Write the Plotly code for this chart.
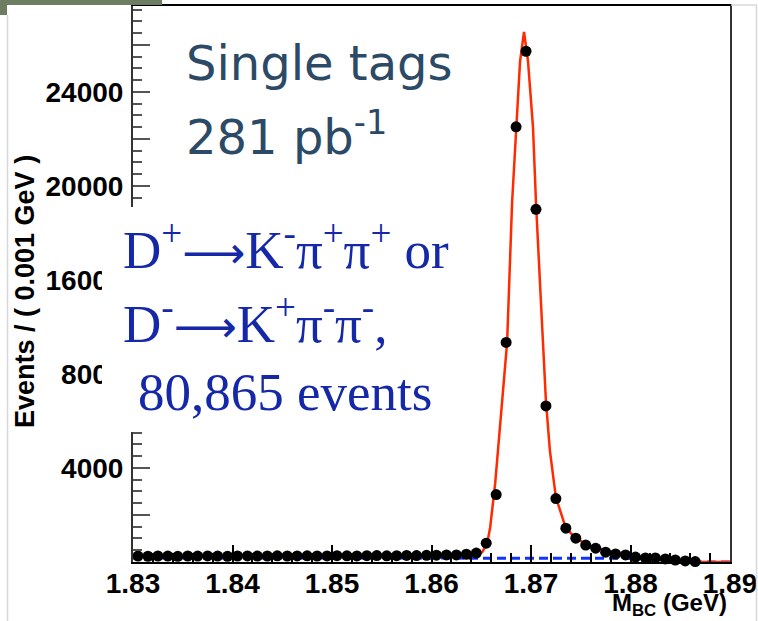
import plotly.graph_objects as go

# ---------------- data ----------------
bin_centers = [1.8305, 1.8315, 1.8325, 1.8335, 1.8345, 1.8355, 1.8365, 1.8375, 1.8385, 1.8395,
               1.8405, 1.8415, 1.8425, 1.8435, 1.8445, 1.8455, 1.8465, 1.8475, 1.8485, 1.8495,
               1.8505, 1.8515, 1.8525, 1.8535, 1.8545, 1.8555, 1.8565, 1.8575, 1.8585, 1.8595,
               1.8605, 1.8615, 1.8625, 1.8635, 1.8645, 1.8655, 1.8665, 1.8675, 1.8685, 1.8695,
               1.8705, 1.8715, 1.8725, 1.8735, 1.8745, 1.8755, 1.8765, 1.8775, 1.8785, 1.8795,
               1.8805, 1.8815, 1.8825, 1.8835, 1.8845, 1.8855, 1.8865]
counts = [250, 245, 255, 250, 240, 255, 250, 260, 250, 245,
          255, 260, 250, 255, 265, 255, 260, 265, 255, 260,
          270, 265, 260, 270, 275, 265, 270, 280, 275, 285,
          290, 300, 300, 330, 380, 800, 2870, 9340, 18510, 21725,
          15000, 6640, 2700, 1440, 1015, 720, 590, 420, 340, 300,
          210, 170, 170, 130, 85, 45, 20]
errors = [c ** 0.5 for c in counts]

fit_m = [1.8300, 1.8450, 1.8600, 1.8640, 1.8646, 1.8651, 1.8656, 1.8659, 1.8664, 1.8671,
         1.8676, 1.8681, 1.8685, 1.8689, 1.8693, 1.8697, 1.8702, 1.8705, 1.8710, 1.8715,
         1.8719, 1.8725, 1.8735, 1.8745, 1.8759, 1.8774, 1.8794, 1.8820, 1.8850, 1.8865, 1.8900]
fit_v = [240, 245, 255, 275, 300, 420, 800, 1480, 3340, 6850,
         9340, 15300, 18500, 21300, 22550, 21300, 18500, 15300, 11050, 6850,
         4740, 2750, 1440, 1015, 680, 510, 300, 170, 45, 0, 0]

bkg_m = [1.8300, 1.8600, 1.8750, 1.8790, 1.8820, 1.8840, 1.8855, 1.8865, 1.8900]
bkg_v = [175, 172, 168, 160, 135, 95, 55, 0, 0]

x_tickvals = [1.83, 1.84, 1.85, 1.86, 1.87, 1.88, 1.89]
x_ticktext = ["1.83", "1.84", "1.85", "1.86", "1.87", "1.88", "1.89"]
y_tickvals = [2000, 4000, 6000, 8000, 10000, 12000, 14000, 16000, 18000, 20000, 22000]
y_ticktext = ["", "4000", "", "8000", "", "16000", "", "20000", "", "24000", ""]

# ---------------- geometry helpers ----------------
W, H = 758, 621
L, R, T, B = 133, 730, 6, 562


def px(xp):
    return (xp - L) / (R - L)


def py(yp):
    return (B - yp) / (B - T)


fig = go.Figure()
fig.add_trace(go.Scatter(x=bkg_m, y=bkg_v, mode="lines",
                         line=dict(color="#1133ff", width=3, dash="9px,5px"),
                         hoverinfo="skip", showlegend=False))
fig.add_trace(go.Scatter(x=fit_m, y=fit_v, mode="lines",
                         line=dict(color="#ff2a00", width=2.5),
                         hoverinfo="skip", showlegend=False))
fig.add_trace(go.Scatter(x=bin_centers, y=counts, mode="markers",
                         marker=dict(color="black", size=11),
                         error_y=dict(type="data", array=errors, color="black", thickness=1.5, width=0),
                         showlegend=False, cliponaxis=False))

tickfont = dict(family="Liberation Sans", size=28, color="black", weight="bold")

fig.update_layout(
    width=W, height=H,
    margin=dict(l=L, r=W - R, t=T, b=H - B, autoexpand=False),
    paper_bgcolor="white", plot_bgcolor="white",
    xaxis=dict(range=[1.83, 1.89], tickmode="array", tickvals=x_tickvals, ticktext=x_ticktext,
               ticks="inside", ticklen=17, tickwidth=1.5, tickcolor="black",
               minor=dict(dtick=0.002, tick0=1.83, ticks="inside", ticklen=9, tickwidth=1.5,
                          tickcolor="black"),
               showline=True, linecolor="black", linewidth=2, mirror=True,
               showgrid=False, zeroline=False, tickfont=tickfont, automargin=False,
               ticklabelstandoff=-5, ticklabeloverflow="allow"),
    yaxis=dict(range=[0, 23650], tickmode="array", tickvals=y_tickvals, ticktext=y_ticktext,
               ticks="inside", ticklen=17, tickwidth=1.5, tickcolor="#555555",
               minor=dict(dtick=500, tick0=0, ticks="inside", ticklen=9, tickwidth=1.5,
                          tickcolor="#555555"),
               showline=True, linecolor="#333333", linewidth=2, mirror=True,
               showgrid=False, zeroline=False, tickfont=tickfont, ticklabelstandoff=2,
               automargin=False, ticklabeloverflow="allow"),
)

# white box covering part of the axis behind the decay text
fig.add_shape(type="rect", xref="paper", yref="paper",
              x0=px(102), x1=px(462), y0=py(432), y1=py(207),
              fillcolor="white", line=dict(width=0), layer="above")
# top-left decorative patch
fig.add_shape(type="rect", xref="paper", yref="paper",
              x0=px(0), x1=px(162), y0=py(5), y1=py(0),
              fillcolor="#6d7d62", line=dict(width=0), layer="above")
fig.add_shape(type="rect", xref="paper", yref="paper",
              x0=px(0), x1=px(7), y0=py(15), y1=py(0),
              fillcolor="#6d7d62", line=dict(width=0), layer="above")
fig.add_shape(type="line", xref="paper", yref="paper",
              x0=px(7.5), x1=px(7.5), y0=py(621), y1=py(15),
              line=dict(color="#d8d8d8", width=1.5), layer="above")
fig.add_shape(type="line", xref="paper", yref="paper",
              x0=px(756.5), x1=px(756.5), y0=py(621), y1=py(5),
              line=dict(color="#d8d8d8", width=1.5), layer="above")
fig.add_shape(type="line", xref="paper", yref="paper",
              x0=px(731), x1=px(757), y0=py(5), y1=py(5),
              line=dict(color="#d8d8d8", width=1.5), layer="above")

ann = []
ann.append(dict(text="Events / ( 0.001 GeV )", x=px(25), y=py(292), xref="paper", yref="paper",
                textangle=-90, showarrow=False, xanchor="center", yanchor="middle",
                font=dict(family="Liberation Sans", size=27, color="black", weight="bold")))
ann.append(dict(text="M<sub>BC</sub> (GeV)", x=px(729), y=py(604), xref="paper", yref="paper",
                showarrow=False, xanchor="right", yanchor="middle",
                font=dict(family="Liberation Sans", size=24, color="black", weight="bold")))
slate = "#2c4a66"
ann.append(dict(text="Single tags", x=px(184), y=py(63), xref="paper", yref="paper",
                showarrow=False, xanchor="left", yanchor="middle",
                font=dict(family="DejaVu Sans", size=48, color=slate)))
ann.append(dict(text="281 pb<sup>-1</sup>", x=px(184), y=py(134), xref="paper", yref="paper",
                showarrow=False, xanchor="left", yanchor="middle",
                font=dict(family="DejaVu Sans", size=48, color=slate)))
blue = "#1428a8"
serif = dict(family="Liberation Serif", size=53, color=blue)
arrow = '<span style="font-family:DejaVu Sans;font-size:44px">⟶</span>'
ann.append(dict(text="D<sup>+</sup>" + arrow + "K<sup>-</sup>π<sup>+</sup>π<sup>+</sup> or", x=px(121), y=py(246),
                xref="paper", yref="paper", showarrow=False, xanchor="left", yanchor="middle", font=serif))
ann.append(dict(text="D<sup>-</sup>" + arrow + "K<sup>+</sup>π<sup>-</sup>π<sup>-</sup>,", x=px(121), y=py(320),
                xref="paper", yref="paper", showarrow=False, xanchor="left", yanchor="middle", font=serif))
ann.append(dict(text="80,865 events", x=px(136), y=py(392),
                xref="paper", yref="paper", showarrow=False, xanchor="left", yanchor="middle", font=serif))
fig.update_layout(annotations=ann)

fig.write_html("out.html")
